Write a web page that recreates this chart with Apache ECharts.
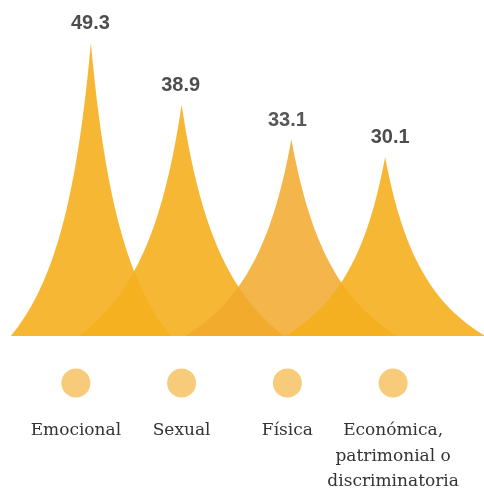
<!DOCTYPE html>
<html>
<head>
<meta charset="utf-8">
<script src="https://cdn.jsdelivr.net/npm/echarts@6/dist/echarts.min.js"></script>
<style>html,body{margin:0;padding:0;background:#fff}#c{width:484px;height:489px}</style>
</head>
<body>
<div id="c"></div>
<script>
// ---- data ----
var categories = ['Emocional', 'Sexual', 'Física', 'Económica,\npatrimonial o\ndiscriminatoria'];
var values = [49.3, 38.9, 33.1, 30.1];
var markerLevel = [1, 1, 1, 1];

// ---- spike shape (style only): half-width d as a function of relative height h ----
function halfWidth(h){ return (1 - h) / (1 + 2 * h); }
var steps = 60, leftSide = [], rightSide = [];
for (var k = 0; k <= steps; k++) {
  var h = k / steps, d = halfWidth(h);
  leftSide.push((100 - 100 * d).toFixed(2) + ',' + (100 - 100 * h).toFixed(2));
}
for (var k2 = steps; k2 >= 0; k2--) {
  var h2 = k2 / steps, d2 = halfWidth(h2);
  rightSide.push((100 + 100 * d2).toFixed(2) + ',' + (100 - 100 * h2).toFixed(2));
}
var spikePath = 'path://M' + leftSide.join(' L') + ' L' + rightSide.join(' L') + ' Z';

var widths = [160, 206, 212, 200];
var offsets = [15, 0, 4, -8];
var labelShift = [14.5, -1, 0, -3];
var colors = ['#F5B01E', '#F5B01E', '#F2A92B', '#F5B01E'];
var opac = [0.9, 0.9, 0.85, 0.9];

var chart = echarts.init(document.getElementById('c'));
chart.setOption({
  animation: false,
  grid: [
    {left: 23, right: 38, top: 38.5, bottom: 153, outerBoundsMode: 'none', containLabel: false},
    {left: 23, right: 38, top: 368, height: 30, outerBoundsMode: 'none', containLabel: false}
  ],
  xAxis: [
    {type: 'category', data: categories, gridIndex: 0, show: false},
    {type: 'category', data: categories, gridIndex: 1,
     axisLine: {show: false}, axisTick: {show: false},
     axisLabel: {margin: 20, interval: 0, color: '#333', fontFamily: 'DejaVu Serif', fontSize: 17, lineHeight: 25.5, verticalAlign: 'top'}}
  ],
  yAxis: [
    {type: 'value', min: 0, max: 50, gridIndex: 0, show: false},
    {type: 'value', min: 0, max: 2, gridIndex: 1, show: false}
  ],
  series: [
    {
      type: 'pictorialBar',
      xAxisIndex: 0, yAxisIndex: 0,
      symbol: spikePath,
      symbolClip: false,
      data: values.map(function(v, i){
        return {
          value: v,
          symbolSize: [widths[i], '100%'],
          symbolOffset: [offsets[i], 0],
          itemStyle: {color: colors[i], opacity: opac[i]},
          label: {offset: [labelShift[i], 0]}
        };
      }),
      label: {show: true, position: 'top', distance: 9, color: '#3a3a3a', fontFamily: 'Liberation Sans', fontWeight: 'bold', fontSize: 20},
      z: 2
    },
    {
      type: 'scatter',
      xAxisIndex: 1, yAxisIndex: 1,
      symbol: 'circle', symbolSize: 29,
      itemStyle: {color: '#F5BE58'},
      data: markerLevel
    }
  ]
});
</script>
</body>
</html>
